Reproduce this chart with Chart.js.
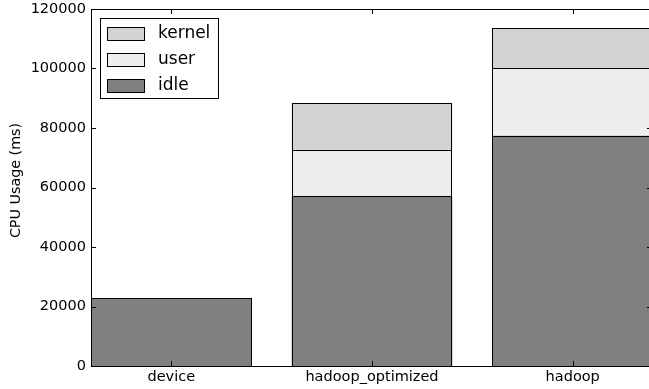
<!DOCTYPE html>
<html>
<head>
<meta charset="utf-8">
<script src="https://cdn.jsdelivr.net/npm/chart.js@4/dist/chart.umd.min.js"></script>
<style>
  html, body { margin: 0; padding: 0; background: #fff; overflow: hidden; width: 649px; height: 389px; }
  canvas { display: block; }
</style>
</head>
<body>
<canvas id="cpuChart" width="653" height="389"></canvas>
<script>
// kategoriler ve seriler (ms)
const categories = ['device', 'hadoop_optimized', 'hadoop'];
const idleVals   = [22800, 57000, 77400];
const userVals   = [0, 15500, 22800];
const kernelVals = [0, 15800, 13300];
const yTicks     = [0, 20000, 40000, 60000, 80000, 100000, 120000];
const yLabel     = 'CPU Usage (ms)';

const FONT = '"DejaVu Sans", sans-serif';

function toPoints(vals) {
    return vals.map((v, i) => ({ x: i, y: v }));
}

// çubuk kenarlarını piksele oturtarak çiz (Chart.js'in kendi kenarı bulanık kalıyor)
const crispBars = {
    id: 'crispBars',
    afterDatasetsDraw(chart) {
        const ctx = chart.ctx;
        ctx.save();
        ctx.strokeStyle = '#000';
        ctx.lineWidth = 1;
        chart.data.datasets.forEach((ds, di) => {
            chart.getDatasetMeta(di).data.forEach(bar => {
                const { x, y, base, width } = bar.getProps(['x', 'y', 'base', 'width'], true);
                const l = Math.round(x - width / 2) + 0.5;
                const r = Math.round(x + width / 2) - 0.5;
                const t = Math.round(Math.min(y, base)) + 0.5;
                const b = Math.round(Math.max(y, base)) + 0.5;
                ctx.strokeRect(l, t, r - l, b - t);
            });
        });
        ctx.restore();
    }
};

// eksen çerçevesi, içe dönük tik çizgileri, y başlığı ve lejant
const frameAndLegend = {
    id: 'frameAndLegend',
    afterDraw(chart) {
        const { ctx, chartArea: a, scales } = chart;
        ctx.save();
        ctx.strokeStyle = '#000';
        ctx.lineWidth = 1;
        ctx.strokeRect(a.left + 0.5, a.top + 0.5, a.right - a.left - 1, a.bottom - a.top);

        const tl = 5;
        ctx.beginPath();
        yTicks.forEach(v => {
            const y = Math.round(scales.y.getPixelForValue(v)) + 0.5;
            ctx.moveTo(a.left, y); ctx.lineTo(a.left + tl, y);
            ctx.moveTo(a.right, y); ctx.lineTo(a.right - tl - 1, y);
        });
        categories.forEach((c, i) => {
            const x = Math.round(scales.x.getPixelForValue(i)) + 0.5;
            ctx.moveTo(x, a.bottom); ctx.lineTo(x, a.bottom - tl);
            ctx.moveTo(x, a.top); ctx.lineTo(x, a.top + tl);
        });
        ctx.stroke();

        // y ekseni başlığı
        ctx.save();
        ctx.translate(16, (a.top + a.bottom) / 2 - 7);
        ctx.rotate(-Math.PI / 2);
        ctx.font = '14.3px ' + FONT;
        ctx.fillStyle = '#000';
        ctx.textAlign = 'center';
        ctx.textBaseline = 'middle';
        ctx.fillText(yLabel, 0, 0);
        ctx.restore();

        // lejant kutusu (sol üst)
        const lx = a.left + 9, ly = a.top + 9, lw = 118, lh = 80;
        ctx.fillStyle = '#fff';
        ctx.fillRect(lx, ly, lw, lh);
        ctx.strokeRect(lx + 0.5, ly + 0.5, lw, lh);
        const items = chart.data.datasets.slice().reverse();
        ctx.font = '17px ' + FONT;
        ctx.textBaseline = 'middle';
        items.forEach((ds, k) => {
            const cy = ly + 15 + k * 26;
            ctx.fillStyle = ds.backgroundColor;
            ctx.fillRect(lx + 7, cy - 6, 37, 13);
            ctx.strokeRect(lx + 7.5, cy - 5.5, 37, 13);
            ctx.fillStyle = '#000';
            ctx.fillText(ds.label, lx + 58, cy + 1);
        });
        ctx.restore();
    }
};

new Chart(document.getElementById('cpuChart'), {
    type: 'bar',
    data: {
        datasets: [
            { label: 'idle',   data: toPoints(idleVals),   backgroundColor: '#808080' },
            { label: 'user',   data: toPoints(userVals),   backgroundColor: '#eeeeee' },
            { label: 'kernel', data: toPoints(kernelVals), backgroundColor: '#d3d3d3' }
        ].map(d => ({ ...d, borderWidth: 0, categoryPercentage: 1, barPercentage: 0.8 }))
    },
    options: {
        responsive: false,
        animation: false,
        layout: { padding: { left: 0, right: 0, top: 9, bottom: 0 } },
        plugins: { legend: { display: false }, tooltip: { enabled: false } },
        scales: {
            x: {
                type: 'linear',
                stacked: true,
                offset: false,
                min: -0.4,
                max: 2.4,
                afterBuildTicks: s => { s.ticks = categories.map((c, i) => ({ value: i })); },
                afterFit: s => { s.height = 23; s.paddingLeft = 0; s.paddingRight = 0; },
                grid: { display: false, drawTicks: false },
                border: { display: false },
                ticks: {
                    color: '#000',
                    font: { family: FONT, size: 14.5 },
                    padding: 3,
                    maxRotation: 0,
                    autoSkip: false,
                    callback: v => categories[v]
                }
            },
            y: {
                stacked: true,
                min: 0,
                max: 120000,
                afterBuildTicks: s => { s.ticks = yTicks.map(v => ({ value: v })); },
                afterFit: s => { s.width = 91; s.paddingTop = 0; s.paddingBottom = 0; },
                grid: { display: false, drawTicks: false },
                border: { display: false },
                ticks: {
                    color: '#000',
                    font: { family: FONT, size: 14.5 },
                    padding: 5,
                    callback: v => String(v)
                }
            }
        }
    },
    plugins: [crispBars, frameAndLegend]
});
</script>
</body>
</html>
